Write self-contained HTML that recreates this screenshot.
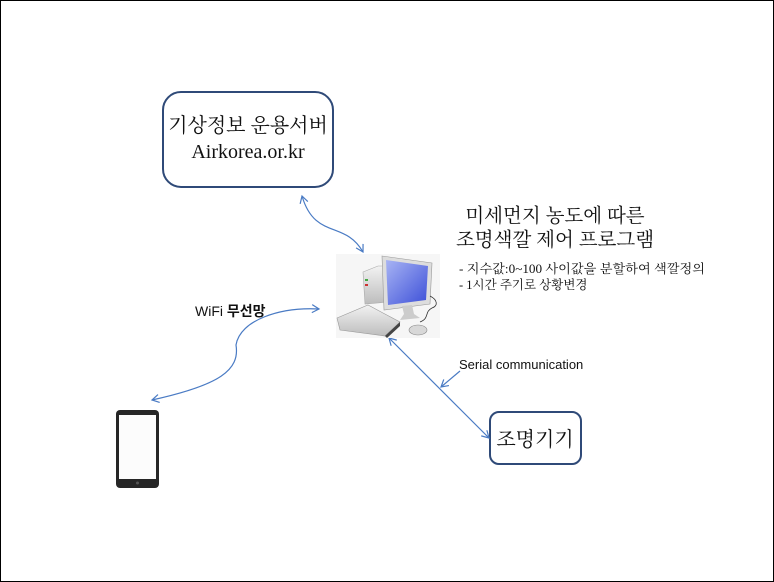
<!DOCTYPE html>
<html><head><meta charset="utf-8"><style>
html,body{margin:0;padding:0;background:#fff}
svg{display:block}
.k{font-family:"Liberation Serif","Noto Serif CJK SC",serif;fill:#111}
.s{font-family:"Liberation Sans","Noto Sans CJK KR",sans-serif;fill:#111}
</style></head><body>
<svg width="774" height="582" viewBox="0 0 774 582" xmlns="http://www.w3.org/2000/svg">
<defs>
<marker id="a" markerWidth="10" markerHeight="10" refX="8" refY="5" orient="auto-start-reverse" markerUnits="userSpaceOnUse">
<path d="M1,1 L8,5 L1,9" fill="none" stroke="#4a7bc4" stroke-width="1.2"/></marker>
<linearGradient id="scr" x1="0" y1="0" x2="1" y2="1"><stop offset="0" stop-color="#a8b4f4"/><stop offset="1" stop-color="#3c4fd8"/></linearGradient>
<linearGradient id="gr" x1="0" y1="0" x2="0" y2="1"><stop offset="0" stop-color="#f2f2f2"/><stop offset="1" stop-color="#bdbdbd"/></linearGradient>
</defs>
<rect x="0.5" y="0.5" width="773" height="581" fill="#fff" stroke="#000"/>
<rect x="163" y="92" width="170" height="95" rx="18" fill="#fff" stroke="#2f4a78" stroke-width="2"/>
<text class="k" x="248" y="132" font-size="20" text-anchor="middle">기상정보 운용서버</text>
<text class="k" x="248" y="158" font-size="20" text-anchor="middle">Airkorea.or.kr</text>
<rect x="490" y="412" width="91" height="52" rx="9" fill="#fff" stroke="#2f4a78" stroke-width="2"/>
<text class="k" x="535" y="446" font-size="20" text-anchor="middle">조명기기</text>
<text class="k" x="555" y="222" font-size="19.5" text-anchor="middle">미세먼지 농도에 따른</text>
<text class="k" x="555" y="246" font-size="19.5" text-anchor="middle">조명색깔 제어 프로그램</text>
<text class="k" x="459" y="273" font-size="12.5" textLength="246" lengthAdjust="spacingAndGlyphs">- 지수값:0~100 사이값을 분할하여 색깔정의</text>
<text class="k" x="459" y="289" font-size="12.5">- 1시간 주기로 상황변경</text>
<text class="s" x="195" y="316" font-size="14">WiFi <tspan font-weight="bold">무선망</tspan></text>
<text class="s" x="459" y="369" font-size="13">Serial communication</text>
<path d="M302,196 C315,240 345,220 363,252" fill="none" stroke="#4a7bc4" stroke-width="1.2" marker-start="url(#a)" marker-end="url(#a)"/>
<path d="M152,400 C220,385 240,370 236,345 C240,320 280,307 319,309" fill="none" stroke="#4a7bc4" stroke-width="1.2" marker-start="url(#a)" marker-end="url(#a)"/>
<path d="M389,338 L489,438" fill="none" stroke="#4a7bc4" stroke-width="1.2" marker-start="url(#a)" marker-end="url(#a)"/>
<path d="M460,371 L441,387" fill="none" stroke="#4a7bc4" stroke-width="1.2" marker-end="url(#a)"/>
<rect x="336" y="254" width="104" height="84" fill="#f6f6f6"/>
<path d="M363,272 L378,266 L388,266 L388,302 L365,304 Z" fill="url(#gr)" stroke="#aaa" stroke-width="0.6"/>
<rect x="365" y="279" width="3" height="2" fill="#4a4"/><rect x="365" y="284" width="3" height="2" fill="#c33"/>
<path d="M382,256 L432,263 L430,304 L384,310 Z" fill="#ddd" stroke="#999" stroke-width="0.6"/>
<path d="M386,260 L428,266 L426,300 L388,305 Z" fill="url(#scr)"/>
<path d="M402,306 L412,305 L414,314 L420,318 L400,320 L404,314 Z" fill="#ccc"/>
<path d="M430,296 C438,300 438,306 432,308 C424,312 430,318 420,322" fill="none" stroke="#333" stroke-width="0.8"/>
<path d="M337,318 L368,305 L400,322 L385,336 L340,330 Z" fill="url(#gr)" stroke="#999" stroke-width="0.6"/>
<path d="M385,336 L400,322 L400,326 L387,338 Z" fill="#444"/>
<ellipse cx="418" cy="330" rx="9" ry="5" fill="#d8d8d8" stroke="#888" stroke-width="0.6"/>
<rect x="116" y="410" width="43" height="78" rx="4" fill="#262626"/>
<rect x="119" y="415" width="37" height="64" fill="#fcfcfc"/>
<circle cx="137.5" cy="483" r="1.5" fill="#555"/>
</svg>
</body></html>
